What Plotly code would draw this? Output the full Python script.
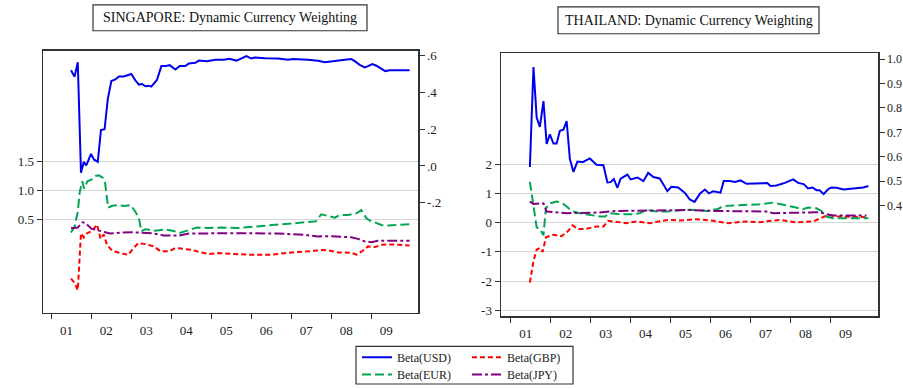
import plotly.graph_objects as go

# ---------------- data (decimal year, value) ----------------
year_ticks = [2001, 2002, 2003, 2004, 2005, 2006, 2007, 2008, 2009]
year_labels = ["01", "02", "03", "04", "05", "06", "07", "08", "09"]

# SINGAPORE
sg_usd_t = [2001.49, 2001.58, 2001.66, 2001.74, 2001.81, 2001.87, 2001.92, 2001.99, 2002.07, 2002.16,
            2002.24, 2002.33, 2002.41, 2002.50, 2002.60, 2002.69, 2002.81, 2003.00, 2003.10, 2003.19,
            2003.27, 2003.35, 2003.44, 2003.50, 2003.64, 2003.75, 2003.85, 2003.96, 2004.10, 2004.21,
            2004.35, 2004.44, 2004.60, 2004.69, 2004.89, 2005.10, 2005.31, 2005.45, 2005.63, 2005.88,
            2006.00, 2006.09, 2006.34, 2006.67, 2006.92, 2007.04, 2007.42, 2007.67, 2007.84, 2008.09,
            2008.34, 2008.50, 2008.59, 2008.71, 2008.84, 2008.92, 2009.03, 2009.13, 2009.25, 2009.35,
            2009.46, 2009.96]
sg_usd = [0.518, 0.484, 0.562, -0.036, 0.022, 0.003, 0.028, 0.065, 0.034, 0.022,
          0.195, 0.199, 0.362, 0.460, 0.469, 0.485, 0.485, 0.498, 0.464, 0.441,
          0.444, 0.432, 0.435, 0.430, 0.466, 0.541, 0.541, 0.546, 0.523, 0.541,
          0.541, 0.555, 0.559, 0.571, 0.568, 0.575, 0.575, 0.581, 0.571, 0.595,
          0.582, 0.588, 0.584, 0.582, 0.575, 0.579, 0.575, 0.570, 0.562, 0.570,
          0.575, 0.579, 0.568, 0.548, 0.534, 0.541, 0.552, 0.543, 0.527, 0.514,
          0.519, 0.519]

sg_eur_t = [2001.49, 2001.58, 2001.66, 2001.71, 2001.77, 2001.82, 2001.90, 2002.00, 2002.10, 2002.19,
            2002.29, 2002.34, 2002.42, 2002.52, 2002.69, 2002.81, 2002.98, 2003.10, 2003.19, 2003.25,
            2003.35, 2003.60, 2003.85, 2004.06, 2004.21, 2004.44, 2004.64, 2004.93, 2005.27, 2005.67,
            2005.92, 2006.25, 2006.67, 2007.09, 2007.62, 2007.75, 2007.92, 2008.09, 2008.21, 2008.42,
            2008.63, 2008.75, 2008.88, 2009.00, 2009.09, 2009.25, 2009.42, 2009.67, 2009.96]
sg_eur = [0.273, 0.376, 0.631, 0.972, 1.152, 1.028, 1.152, 1.181, 1.244, 1.255,
          1.210, 1.142, 0.699, 0.733, 0.744, 0.727, 0.744, 0.631, 0.517, 0.295,
          0.330, 0.305, 0.325, 0.300, 0.265, 0.315, 0.360, 0.350, 0.359, 0.350,
          0.364, 0.395, 0.415, 0.440, 0.465, 0.585, 0.563, 0.529, 0.573, 0.573,
          0.602, 0.658, 0.517, 0.461, 0.449, 0.403, 0.393, 0.398, 0.415]

sg_gbp_t = [2001.49, 2001.58, 2001.66, 2001.74, 2001.81, 2001.89, 2002.02, 2002.14, 2002.23, 2002.31,
            2002.39, 2002.52, 2002.73, 2002.92, 2003.03, 2003.17, 2003.35, 2003.56, 2003.73, 2003.94,
            2004.10, 2004.31, 2004.52, 2004.69, 2004.93, 2005.18, 2005.52, 2005.92, 2006.50, 2007.09,
            2007.42, 2007.75, 2007.92, 2008.17, 2008.50, 2008.63, 2008.79, 2008.92, 2009.09, 2009.25,
            2009.50, 2009.96]
sg_gbp = [-0.517, -0.590, -0.715, 0.261, 0.188, 0.261, 0.301, 0.410, 0.164, 0.240,
          0.062, -0.040, -0.079, -0.110, -0.015, 0.091, 0.074, 0.035, -0.050, -0.050,
          0.006, -0.011, -0.023, -0.062, -0.096, -0.079, -0.095, -0.108, -0.108, -0.062,
          -0.050, -0.028, -0.033, -0.068, -0.074, -0.108, -0.040, 0.035, 0.023, 0.062,
          0.069, 0.052]

sg_jpy_t = [2001.49, 2001.66, 2001.78, 2001.85, 2002.00, 2002.14, 2002.31, 2002.47, 2002.76, 2003.02,
            2003.52, 2003.81, 2004.19, 2004.44, 2005.52, 2006.67, 2007.34, 2007.67, 2007.92, 2008.50,
            2008.67, 2008.84, 2009.00, 2009.17, 2009.96]
sg_jpy = [0.347, 0.360, 0.449, 0.435, 0.340, 0.318, 0.290, 0.256, 0.273, 0.278,
          0.261, 0.222, 0.222, 0.256, 0.261, 0.256, 0.233, 0.205, 0.210, 0.193,
          0.164, 0.120, 0.108, 0.131, 0.131]

# THAILAND
th_usd_t = [2001.48, 2001.57, 2001.65, 2001.73, 2001.82, 2001.90, 2001.98, 2002.07, 2002.15, 2002.23,
            2002.32, 2002.40, 2002.48, 2002.57, 2002.67, 2002.80, 2002.98, 2003.15, 2003.32, 2003.42,
            2003.50, 2003.58, 2003.67, 2003.75, 2003.92, 2004.00, 2004.17, 2004.32, 2004.44, 2004.57,
            2004.73, 2004.92, 2005.02, 2005.19, 2005.36, 2005.48, 2005.60, 2005.74, 2005.86, 2005.96,
            2006.07, 2006.15, 2006.25, 2006.33, 2006.48, 2006.61, 2006.75, 2006.90, 2007.23, 2007.42,
            2007.50, 2007.65, 2007.86, 2008.07, 2008.19, 2008.33, 2008.44, 2008.55, 2008.65, 2008.73,
            2008.83, 2008.94, 2009.02, 2009.15, 2009.33, 2009.57, 2009.82, 2009.95]
th_usd = [0.558, 0.967, 0.760, 0.722, 0.828, 0.652, 0.692, 0.654, 0.654, 0.706,
          0.711, 0.746, 0.591, 0.538, 0.580, 0.578, 0.593, 0.567, 0.565, 0.495,
          0.496, 0.509, 0.473, 0.510, 0.527, 0.507, 0.515, 0.500, 0.534, 0.517,
          0.511, 0.459, 0.477, 0.474, 0.452, 0.425, 0.415, 0.450, 0.466, 0.450,
          0.459, 0.457, 0.453, 0.501, 0.501, 0.497, 0.503, 0.489, 0.489, 0.492,
          0.480, 0.482, 0.493, 0.507, 0.493, 0.488, 0.470, 0.474, 0.463, 0.463,
          0.447, 0.467, 0.474, 0.473, 0.466, 0.470, 0.474, 0.480]

th_eur_t = [2001.48, 2001.57, 2001.65, 2001.73, 2001.82, 2001.88, 2001.98, 2002.15, 2002.27, 2002.40,
            2002.52, 2002.73, 2002.98, 2003.23, 2003.36, 2003.48, 2003.73, 2004.06, 2004.23, 2004.40,
            2004.65, 2004.90, 2005.23, 2005.48, 2005.90, 2006.19, 2006.31, 2006.73, 2007.23, 2007.57,
            2007.90, 2008.11, 2008.31, 2008.44, 2008.65, 2008.77, 2008.90, 2009.06, 2009.95]
th_eur = [1.410, 0.560, -0.157, -0.215, -0.430, 0.500, 0.671, 0.729, 0.695, 0.559,
          0.409, 0.331, 0.273, 0.218, 0.218, 0.331, 0.296, 0.296, 0.331, 0.443,
          0.388, 0.388, 0.430, 0.450, 0.409, 0.477, 0.579, 0.613, 0.637, 0.695,
          0.613, 0.535, 0.467, 0.525, 0.501, 0.409, 0.218, 0.160, 0.160]

th_gbp_t = [2001.48, 2001.57, 2001.65, 2001.73, 2001.80, 2001.88, 2002.07, 2002.27, 2002.43, 2002.55,
            2002.69, 2002.86, 2003.15, 2003.32, 2003.44, 2003.61, 2003.90, 2004.15, 2004.49, 2004.70,
            2004.96, 2005.23, 2005.64, 2006.07, 2006.44, 2006.90, 2007.23, 2007.73, 2008.15, 2008.57,
            2008.77, 2008.94, 2009.15, 2009.57, 2009.95]
th_gbp = [-2.055, -1.315, -0.920, -0.862, -0.998, -0.497, -0.409, -0.463, -0.293, -0.089,
          -0.215, -0.215, -0.123, -0.123, 0.068, 0.048, -0.010, 0.048, -0.010, 0.048,
          0.102, 0.080, 0.126, 0.068, -0.010, 0.048, 0.024, 0.102, 0.014, 0.048,
          0.160, 0.273, 0.218, 0.194, 0.194]

th_jpy_t = [2001.48, 2001.57, 2001.82, 2001.90, 2002.07, 2002.40, 2003.23, 2003.65, 2004.40, 2005.48,
            2006.07, 2006.90, 2007.40, 2007.57, 2008.40, 2008.73, 2008.90, 2009.06, 2009.90]
th_jpy = [0.729, 0.648, 0.671, 0.388, 0.365, 0.331, 0.354, 0.409, 0.422, 0.443,
          0.409, 0.388, 0.388, 0.331, 0.365, 0.365, 0.296, 0.252, 0.252]

# ---------------- styling ----------------
W, H = 903, 389
FONT = "Liberation Serif"
AX = "#333333"
GRID = "#d6d6d6"
C_USD, C_GBP, C_EUR, C_JPY = "#0000f0", "#ff0000", "#00a651", "#800080"
D_USD, D_GBP, D_EUR, D_JPY = "solid", "5px,3px", "9px,4px", "10px,3px,3px,3px"


def px_x(p):
    return p / W


def px_y(p):
    return 1 - p / H


fig = go.Figure()


def add(t, v, name, color, dash, xa, ya, legend, show):
    fig.add_trace(go.Scatter(
        x=t, y=v, mode="lines", name=name,
        line=dict(color=color, width=2, dash=dash),
        xaxis=xa, yaxis=ya, legend=legend, showlegend=show,
        legendgroup=name, hoverinfo="skip"))


# Singapore
add(sg_usd_t, sg_usd, "Beta(USD)", C_USD, D_USD, "x", "y2", "legend", False)
add(sg_gbp_t, sg_gbp, "Beta(GBP)", C_GBP, D_GBP, "x", "y", "legend2", False)
add(sg_eur_t, sg_eur, "Beta(EUR)", C_EUR, D_EUR, "x", "y", "legend3", False)
add(sg_jpy_t, sg_jpy, "Beta(JPY)", C_JPY, D_JPY, "x", "y", "legend4", False)
# Thailand
add(th_usd_t, th_usd, "Beta(USD)", C_USD, D_USD, "x2", "y4", "legend", True)
add(th_gbp_t, th_gbp, "Beta(GBP)", C_GBP, D_GBP, "x2", "y3", "legend2", True)
add(th_eur_t, th_eur, "Beta(EUR)", C_EUR, D_EUR, "x2", "y3", "legend3", True)
add(th_jpy_t, th_jpy, "Beta(JPY)", C_JPY, D_JPY, "x2", "y3", "legend4", True)

common = dict(showline=True, linecolor=AX, linewidth=1.5, ticks="outside", ticklen=5,
              tickwidth=1, tickcolor=AX, zeroline=False, automargin=False,
              tickfont=dict(family=FONT, size=13, color="#222"))

sg_dom_x = [px_x(43), px_x(418)]
sg_dom_y = [px_y(315), px_y(51)]
th_dom_x = [px_x(501), px_x(878)]
th_dom_y = [px_y(318.5), px_y(53.7)]


def leg(xp, yp):
    return dict(x=px_x(xp), y=px_y(yp), xanchor="left", yanchor="middle",
                bgcolor="rgba(0,0,0,0)", borderwidth=0, tracegroupgap=0,
                font=dict(family=FONT, size=12, color="#222"))


fig.update_layout(
    width=W, height=H, margin=dict(l=0, r=0, t=0, b=0),
    paper_bgcolor="white", plot_bgcolor="white",
    font=dict(family=FONT, size=13, color="#222"),
    xaxis=dict(domain=sg_dom_x, range=[2000.79, 2010.17], anchor="y", mirror=True,
               tickvals=year_ticks, ticktext=year_labels, ticklabelshift=15,
               showgrid=False, **common),
    yaxis=dict(domain=sg_dom_y, range=[-1.101, 3.396], anchor="x",
               tickvals=[0.5, 1.0, 1.5], ticktext=["0.5", "1.0", "1.5"],
               showgrid=True, gridcolor=GRID, gridwidth=1, **common),
    yaxis2=dict(overlaying="y", side="right", anchor="x", range=[-0.794, 0.625],
                tickvals=[-0.2, 0.0, 0.2, 0.4, 0.6], ticktext=["-.2", ".0", ".2", ".4", ".6"],
                showgrid=False, **common),
    xaxis2=dict(domain=th_dom_x, range=[2000.7575, 2010.19], anchor="y3", mirror=True,
                tickvals=year_ticks, ticktext=year_labels, ticklabelshift=15,
                showgrid=False, **common),
    yaxis3=dict(domain=th_dom_y, range=[-3.203, 5.826], anchor="x2",
                tickvals=[-3, -2, -1, 0, 1, 2], ticktext=["-3", "-2", "-1", "0", "1", "2"],
                showgrid=True, gridcolor=GRID, gridwidth=1, **common),
    yaxis4=dict(overlaying="y3", side="right", anchor="x2", range=[-0.0523, 1.0236],
                tickvals=[0.4, 0.5, 0.6, 0.7, 0.8, 0.9, 1.0],
                ticktext=["0.4", "0.5", "0.6", "0.7", "0.8", "0.9", "1.0"],
                showgrid=False, **{**common, "tickfont": dict(family=FONT, size=12, color="#222")}),
    legend=leg(357, 360),
    legend2=leg(467, 360),
    legend3=leg(357, 377.5),
    legend4=leg(467, 377.5),
    showlegend=True,
)

# title boxes and legend frame
fig.add_shape(type="rect", xref="paper", yref="paper",
              x0=px_x(93), x1=px_x(367), y0=px_y(31), y1=px_y(5),
              line=dict(color=AX, width=1.2), fillcolor="white")
fig.add_shape(type="rect", xref="paper", yref="paper",
              x0=px_x(558), x1=px_x(819), y0=px_y(34), y1=px_y(7),
              line=dict(color=AX, width=1.2), fillcolor="white")
fig.add_shape(type="rect", xref="paper", yref="paper",
              x0=px_x(356), x1=px_x(573), y0=px_y(387), y1=px_y(349),
              line=dict(color=AX, width=1.2))

fig.add_annotation(text="SINGAPORE: Dynamic Currency Weighting", xref="paper", yref="paper",
                   x=px_x(230), y=px_y(18), xanchor="center", yanchor="middle",
                   showarrow=False, font=dict(family=FONT, size=14, color="#111"))
fig.add_annotation(text="THAILAND: Dynamic Currency Weighting", xref="paper", yref="paper",
                   x=px_x(688.5), y=px_y(20.5), xanchor="center", yanchor="middle",
                   showarrow=False, font=dict(family=FONT, size=14, color="#111"))

fig.write_html("out.html", config={"displayModeBar": False, "staticPlot": True},
               post_script="document.body.style.margin='0px';document.body.style.padding='0px';")
